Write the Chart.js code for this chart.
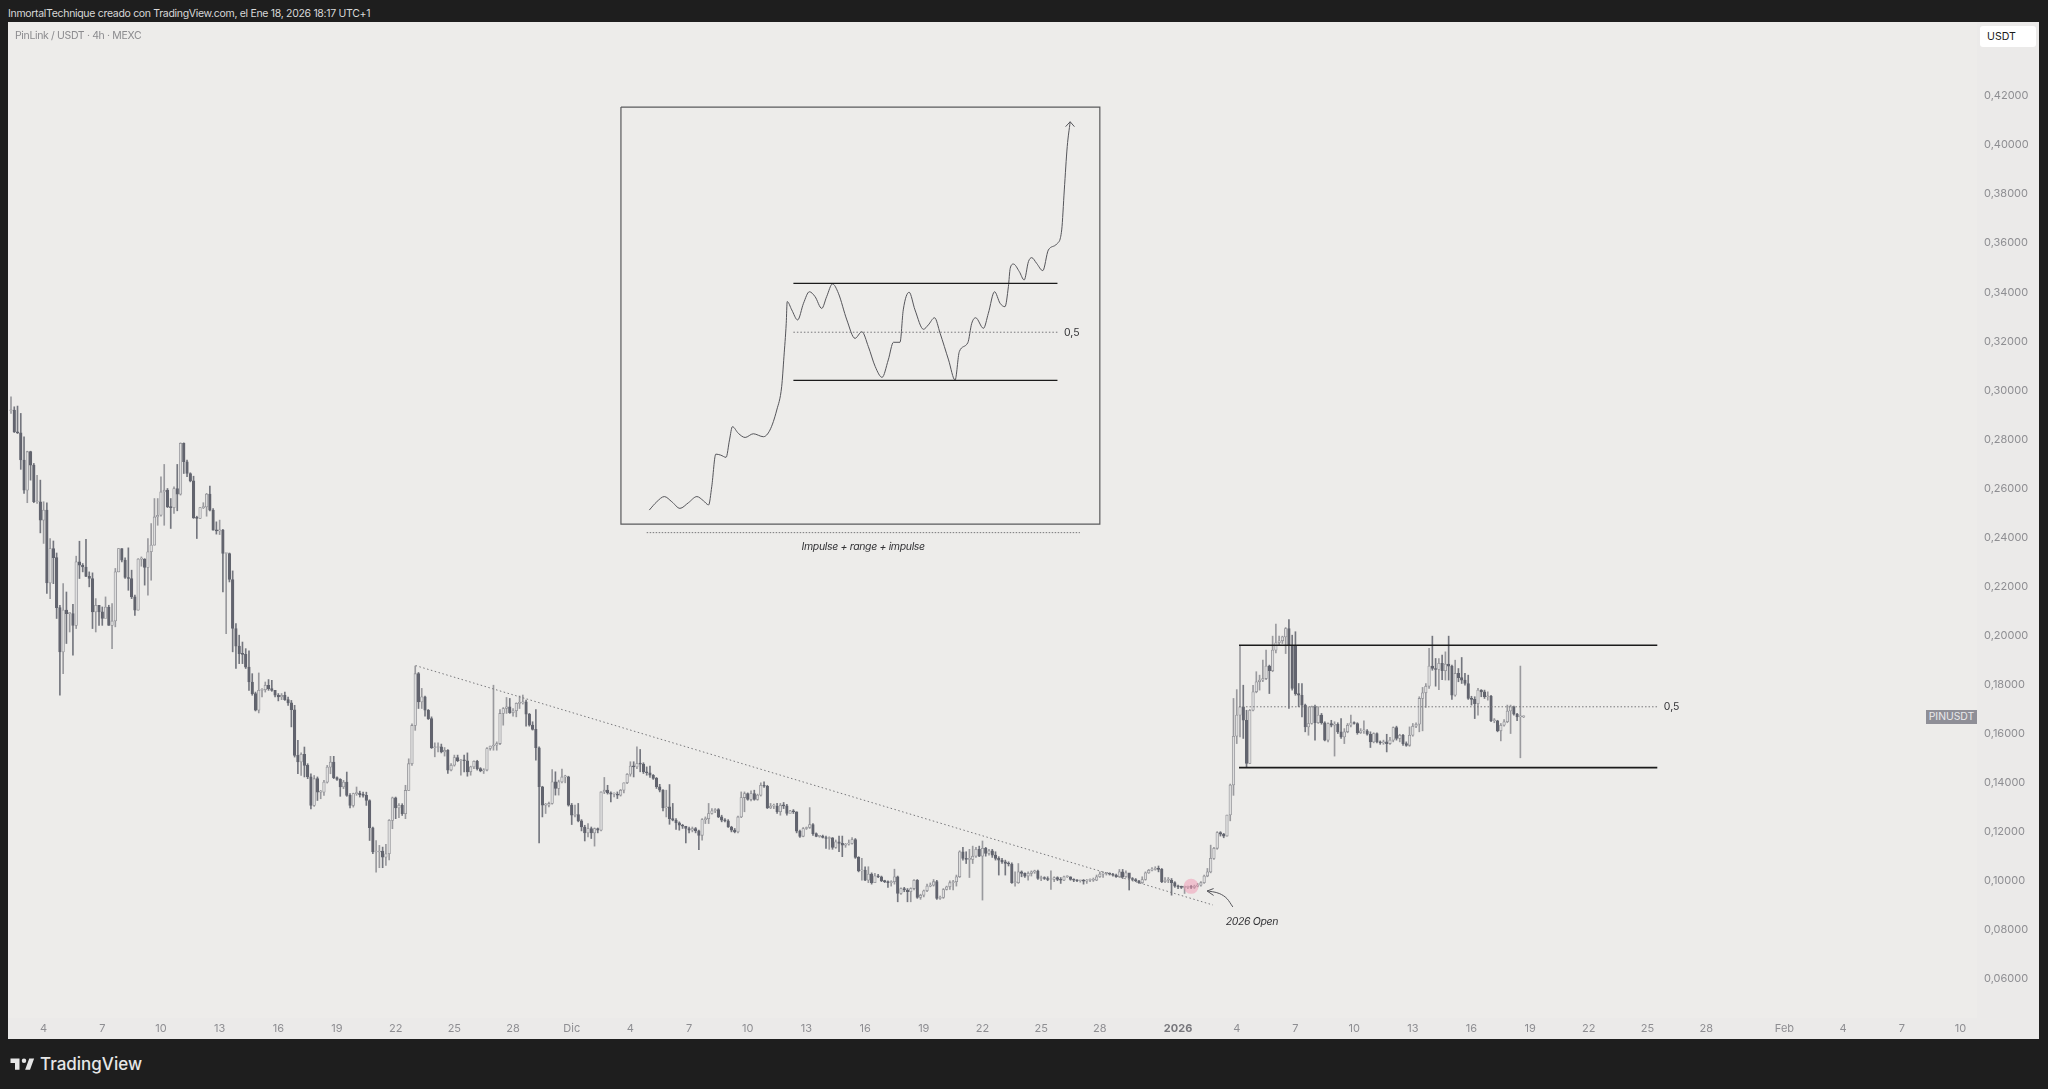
<!DOCTYPE html>
<html>
<head>
<meta charset="utf-8">
<title>PinLink / USDT</title>
<script src="https://cdn.jsdelivr.net/npm/chart.js@4/dist/chart.umd.min.js"></script>
<style>
  html, body { margin: 0; padding: 0; background: #1e1e1e; overflow: hidden; }
  body { width: 2048px; height: 1089px; position: relative; font-family: Inter, sans-serif; }
  #head { position: absolute; left: 8px; top: 7px; font-size: 10.5px; letter-spacing: -0.31px; line-height: 14px; color: #d8d8d8; white-space: nowrap; }
  #panel { position: absolute; left: 8px; top: 22px; width: 2031px; height: 1017px; }
  #title { position: absolute; left: 15px; top: 29px; font-size: 10.5px; letter-spacing: -0.35px; line-height: 14px; color: #8b8b8e; white-space: nowrap; }
  #unit { position: absolute; left: 1980px; top: 26px; width: 56px; height: 21px; line-height: 21px; background: #fff; border-radius: 3px; color: #1c1c1c; font-size: 10.6px; text-indent: 7px; }
  #tag { position: absolute; left: 1926px; top: 710px; width: 51px; height: 14px; line-height: 14px; background: #8f8f97; color: #e9e9ec; font-size: 10.4px; text-align: center; }
  #logo { position: absolute; left: 9px; top: 1054px; }
  #brand { position: absolute; left: 40px; top: 1052px; font-size: 17px; line-height: 24px; font-weight: 500; color: #e6e6e6; }
</style>
</head>
<body>
<div id="head">InmortalTechnique creado con TradingView.com, el Ene 18, 2026 18:17 UTC+1</div>
<canvas id="panel" width="2031" height="1017"></canvas>
<div id="title">PinLink / USDT · 4h · MEXC</div>
<div id="unit">USDT</div>
<div id="tag">PINUSDT</div>
<svg id="logo" width="27" height="21" viewBox="0 0 36 28"><path fill="#e6e6e6" d="M14 6H2v6h6v9h6V6zm14 15h-6.5L27 6h6.5L28 21z"/><circle fill="#e6e6e6" cx="20" cy="9" r="3"/></svg>
<div id="brand">TradingView</div>

<script>
// 4h candles, one value per bar. open = previous close
let firstOpen = .2917;
let closes = [
  .2920,.2831,.2827,.2716,.2593,.2750,.2695,.2546,.2546,.2471,.2512,.2215,.2355,.2318,.2114,.1934,.2104,.2090,.2090,.2042,
  .2301,.2287,.2280,.2242,.2233,.2097,.2124,.2097,.2070,.2117,.2042,.2060,.2260,.2355,.2308,.2237,.2233,.2158,.2104,.2312,
  .2312,.2278,.2342,.2369,.2484,.2491,.2586,.2593,.2525,.2522,.2600,.2577,.2784,.2709,.2661,.2631,.2480,.2478,.2522,.2525,
  .2577,.2512,.2430,.2427,.2430,.2335,.2335,.2229,.2029,.1957,.1927,.1924,.1872,.1811,.1764,.1696,.1777,.1780,.1798,.1784,
  .1777,.1757,.1750,.1757,.1739,.1726,.1698,.1512,.1485,.1516,.1471,.1424,.1308,.1417,.1362,.1362,.1403,.1464,.1485,.1421,
  .1414,.1383,.1403,.1349,.1308,.1356,.1358,.1352,.1349,.1328,.1217,.1118,.1118,.1122,.1097,.1111,.1247,.1339,.1298,.1308,
  .1274,.1369,.1478,.1634,.1845,.1730,.1751,.1696,.1662,.1543,.1544,.1547,.1526,.1533,.1452,.1472,.1503,.1490,.1492,.1490,
  .1445,.1465,.1488,.1458,.1449,.1452,.1540,.1550,.1554,.1560,.1683,.1703,.1710,.1686,.1694,.1724,.1726,.1730,.1680,.1635,
  .1618,.1543,.1384,.1309,.1309,.1316,.1404,.1377,.1404,.1424,.1424,.1309,.1268,.1271,.1245,.1220,.1196,.1214,.1196,.1214,
  .1207,.1363,.1370,.1359,.1354,.1354,.1350,.1370,.1400,.1435,.1468,.1465,.1479,.1476,.1445,.1441,.1431,.1418,.1384,.1370,
  .1298,.1302,.1254,.1248,.1237,.1227,.1223,.1214,.1207,.1214,.1204,.1186,.1250,.1254,.1275,.1286,.1291,.1261,.1248,.1245,
  .1220,.1207,.1200,.1261,.1340,.1356,.1332,.1356,.1332,.1350,.1390,.1386,.1298,.1305,.1305,.1282,.1309,.1306,.1275,.1286,
  .1282,.1203,.1182,.1214,.1218,.1230,.1193,.1182,.1183,.1177,.1173,.1176,.1137,.1160,.1153,.1146,.1150,.1153,.1169,.1096,
  .1041,.1044,.1003,.1028,.0993,.1021,.1017,.1001,.0997,.0993,.0997,.1017,.0949,.0969,.0963,.0956,.0969,.1003,.0933,.0942,
  .0960,.0979,.0983,.0997,.0929,.0933,.0965,.0976,.0993,.0997,.1017,.1119,.1092,.1088,.1088,.1101,.1129,.1101,.1133,.1112,
  .1123,.1105,.1092,.1085,.1078,.1071,.1069,.0993,.0993,.1037,.1031,.1020,.1031,.1037,.1040,.1010,.1014,.1010,.1006,.1006,
  .1014,.1006,.1003,.1017,.1017,.1006,.1003,.1001,.1001,.0999,.1003,.1003,.1003,.1017,.1028,.1031,.1031,.1028,.1024,.1017,
  .1037,.1017,.1033,.1010,.1006,.1001,.0993,.1006,.1033,.1044,.1047,.1051,.1047,.0997,.1003,.1003,.0993,.0979,.0976,.0974,
  .0974,.0976,.0974,.0979,.0983,.0993,.1020,.1037,.1092,.1133,.1197,.1191,.1183,.1269,.1391,.1590,.1676,.1710,.1655,.1479,
  .1696,.1771,.1812,.1819,.1825,.1876,.1857,.1941,.1971,.1979,.1995,.2029,.1961,.1785,.1764,.1757,.1717,.1628,.1642,.1710,
  .1645,.1676,.1645,.1574,.1642,.1635,.1639,.1608,.1587,.1608,.1635,.1645,.1642,.1604,.1612,.1612,.1598,.1567,.1601,.1567,
  .1563,.1567,.1560,.1574,.1625,.1581,.1594,.1560,.1553,.1594,.1631,.1639,.1744,.1767,.1794,.1876,.1866,.1862,.1887,.1857,
  .1884,.1876,.1757,.1846,.1829,.1819,.1805,.1744,.1740,.1723,.1778,.1771,.1751,.1753,.1653,.1653,.1612,.1635,.1649,.1693,
  .1710,.1680,.1669,.1669,.1669
];
let highs = [
  .2974,.2933,.2936,.2906,.2811,.2752,.2752,.2702,.2654,.2634,.2546,.2542,.2396,.2386,.2337,.2124,.2212,.2178,.2094,.2128,
  .2324,.2385,.2294,.2393,.2260,.2256,.2151,.2124,.2117,.2158,.2124,.2131,.2274,.2355,.2355,.2317,.2358,.2267,.2165,.2314,
  .2321,.2314,.2396,.2457,.2559,.2559,.2648,.2698,.2600,.2559,.2607,.2698,.2786,.2786,.2716,.2664,.2650,.2487,.2522,.2542,
  .2580,.2610,.2518,.2464,.2471,.2433,.2335,.2337,.2264,.2049,.2002,.1974,.1947,.1938,.1845,.1770,.1848,.1784,.1811,.1821,
  .1818,.1777,.1764,.1764,.1770,.1750,.1736,.1716,.1573,.1522,.1546,.1478,.1437,.1430,.1424,.1369,.1410,.1471,.1508,.1508,
  .1424,.1417,.1410,.1444,.1356,.1358,.1383,.1366,.1362,.1362,.1331,.1220,.1165,.1145,.1138,.1149,.1250,.1342,.1342,.1315,
  .1315,.1390,.1498,.1641,.1876,.1850,.1785,.1754,.1699,.1669,.1563,.1563,.1558,.1544,.1536,.1479,.1513,.1513,.1495,.1513,
  .1522,.1468,.1490,.1492,.1462,.1458,.1544,.1550,.1798,.1567,.1699,.1707,.1748,.1744,.1703,.1726,.1754,.1758,.1737,.1683,
  .1649,.1699,.1547,.1386,.1316,.1322,.1454,.1445,.1411,.1456,.1431,.1427,.1316,.1309,.1316,.1250,.1227,.1234,.1220,.1216,
  .1216,.1363,.1422,.1390,.1363,.1359,.1363,.1373,.1400,.1438,.1486,.1486,.1547,.1536,.1482,.1465,.1468,.1434,.1422,.1394,
  .1373,.1370,.1393,.1316,.1254,.1241,.1231,.1223,.1220,.1220,.1218,.1207,.1254,.1261,.1316,.1295,.1295,.1295,.1268,.1254,
  .1250,.1223,.1214,.1264,.1363,.1363,.1359,.1367,.1370,.1354,.1400,.1404,.1390,.1316,.1313,.1316,.1316,.1320,.1312,.1288,
  .1291,.1282,.1207,.1218,.1220,.1299,.1234,.1196,.1186,.1187,.1183,.1180,.1177,.1167,.1183,.1183,.1153,.1167,.1177,.1173,
  .1099,.1092,.1058,.1058,.1033,.1031,.1027,.1020,.1003,.1001,.1001,.1048,.1020,.0972,.0974,.0969,.0972,.1006,.1006,.0946,
  .0963,.0987,.0992,.1006,.1003,.0938,.0969,.0979,.1001,.1003,.1024,.1123,.1137,.1119,.1129,.1142,.1137,.1142,.1163,.1137,
  .1129,.1129,.1119,.1099,.1092,.1085,.1078,.1074,.1037,.1071,.1041,.1033,.1037,.1041,.1044,.1044,.1020,.1017,.1017,.1041,
  .1017,.1017,.1014,.1020,.1021,.1017,.1009,.1006,.1003,.1006,.1006,.1009,.1012,.1024,.1037,.1037,.1033,.1033,.1031,.1028,
  .1047,.1047,.1041,.1028,.1014,.1010,.1003,.1017,.1037,.1047,.1055,.1058,.1061,.1051,.1014,.1014,.1010,.0997,.0983,.0979,
  .0979,.0979,.0982,.0983,.0990,.0997,.1024,.1051,.1146,.1137,.1201,.1201,.1194,.1269,.1395,.1744,.1780,.1961,.1798,.1696,
  .1699,.1798,.1853,.1839,.1900,.1941,.1880,.1998,.2047,.1998,.1998,.2033,.2066,.2002,.2016,.1805,.1805,.1721,.1710,.1713,
  .1717,.1710,.1683,.1649,.1645,.1655,.1649,.1645,.1662,.1621,.1642,.1676,.1649,.1645,.1621,.1653,.1617,.1608,.1604,.1604,
  .1571,.1574,.1598,.1585,.1628,.1631,.1598,.1598,.1567,.1628,.1642,.1645,.1751,.1789,.1805,.1948,.1998,.1907,.1907,.1921,
  .1934,.1998,.1880,.1900,.1866,.1911,.1846,.1839,.1753,.1751,.1785,.1780,.1778,.1771,.1757,.1662,.1655,.1642,.1658,.1717,
  .1717,.1713,.1683,.1876,.1673
];
let lows = [
  .2906,.2828,.2824,.2678,.2580,.2542,.2634,.2542,.2539,.2419,.2376,.2172,.2151,.2212,.2070,.1757,.1845,.1968,.2015,.1920,
  .2029,.2233,.2260,.2240,.2199,.2029,.2015,.2042,.2042,.2090,.2042,.1947,.2036,.2260,.2301,.2233,.2185,.2151,.2083,.2104,
  .2283,.2206,.2165,.2226,.2369,.2450,.2487,.2450,.2522,.2437,.2498,.2509,.2573,.2661,.2648,.2627,.2478,.2396,.2478,.2518,
  .2487,.2509,.2430,.2414,.2412,.2178,.2008,.2219,.1934,.1866,.1886,.1886,.1866,.1777,.1757,.1693,.1685,.1750,.1770,.1777,
  .1773,.1750,.1734,.1739,.1736,.1716,.1628,.1505,.1437,.1430,.1424,.1417,.1294,.1304,.1328,.1335,.1349,.1399,.1437,.1417,
  .1410,.1345,.1376,.1345,.1298,.1301,.1349,.1342,.1342,.1308,.1165,.1111,.1036,.1054,.1054,.1063,.1086,.1213,.1254,.1258,
  .1267,.1254,.1369,.1471,.1614,.1703,.1703,.1672,.1658,.1540,.1506,.1526,.1522,.1509,.1438,.1449,.1468,.1486,.1431,.1445,
  .1427,.1431,.1458,.1452,.1445,.1438,.1449,.1533,.1533,.1533,.1556,.1635,.1683,.1683,.1672,.1669,.1703,.1721,.1631,.1631,
  .1615,.1492,.1155,.1261,.1275,.1302,.1313,.1350,.1350,.1400,.1400,.1305,.1230,.1261,.1241,.1204,.1163,.1180,.1173,.1142,
  .1196,.1204,.1356,.1354,.1322,.1343,.1336,.1346,.1359,.1397,.1427,.1424,.1458,.1445,.1438,.1431,.1422,.1414,.1377,.1363,
  .1286,.1261,.1231,.1245,.1210,.1207,.1214,.1155,.1196,.1200,.1196,.1128,.1166,.1234,.1234,.1272,.1278,.1258,.1241,.1241,
  .1218,.1200,.1196,.1196,.1258,.1282,.1329,.1326,.1329,.1329,.1346,.1381,.1295,.1295,.1295,.1275,.1268,.1295,.1268,.1282,
  .1275,.1196,.1177,.1180,.1210,.1214,.1186,.1180,.1178,.1175,.1133,.1129,.1129,.1133,.1119,.1099,.1137,.1146,.1150,.1092,
  .1037,.1003,.1001,.0993,.0987,.1017,.1013,.0997,.0993,.0974,.0979,.0987,.0915,.0945,.0956,.0915,.0915,.0963,.0929,.0925,
  .0935,.0956,.0976,.0979,.0925,.0925,.0929,.0963,.0965,.0963,.0979,.1014,.1085,.1071,.1014,.1071,.1096,.1099,.0922,.1101,
  .1105,.1096,.1085,.1024,.1071,.1024,.1061,.0990,.0979,.0990,.1017,.1014,.1003,.1020,.1031,.1006,.1001,.1006,.1001,.0965,
  .0997,.1001,.0990,.1001,.1014,.1003,.0997,.0997,.0995,.0987,.0990,.0997,.0998,.1001,.1014,.1014,.1024,.1024,.1020,.1014,
  .1014,.1010,.1014,.0963,.1001,.0997,.0990,.0990,.1003,.1031,.1041,.1044,.1037,.0993,.0993,.0993,.0942,.0974,.0969,.0969,
  .0949,.0969,.0969,.0969,.0976,.0979,.0990,.1017,.1033,.1088,.1129,.1183,.1176,.1183,.1245,.1349,.1560,.1587,.1581,.1465,
  .1479,.1693,.1767,.1778,.1812,.1821,.1764,.1853,.1930,.1961,.1968,.1927,.1703,.1778,.1757,.1710,.1669,.1608,.1594,.1639,
  .1574,.1642,.1639,.1571,.1567,.1628,.1509,.1601,.1581,.1560,.1604,.1628,.1639,.1598,.1601,.1601,.1594,.1544,.1563,.1563,
  .1557,.1557,.1526,.1557,.1567,.1574,.1567,.1553,.1549,.1549,.1590,.1625,.1608,.1612,.1707,.1785,.1859,.1794,.1780,.1821,
  .1819,.1819,.1740,.1753,.1812,.1805,.1798,.1740,.1717,.1662,.1676,.1751,.1744,.1737,.1649,.1645,.1608,.1571,.1631,.1645,
  .1601,.1676,.1653,.1502,.1666
];
// the one bar that opens away from the previous close, bar index -> open
let gapOpens = { 394: .1961 };

let priceTicks = [.06,.08,.10,.12,.14,.16,.18,.20,.22,.24,.26,.28,.30,.32,.34,.36,.38,.40,.42];
let dateBars = [10,28,46,64,82,100,118,136,154,172,190,208,226,244,262,280,298,316,334,358,376,394,412,430,448,466,484,502,520,544,562,580,598];
let dateLabels = ['4','7','10','13','16','19','22','25','28','Dic','4','7','10','13','16','19','22','25','28','2026','4','7','10','13','16','19','22','25','28','Feb','4','7','10'];

// drawings on the chart, in bar index / price
let trendX = [124.1, 368.7];
let trendY = [.1878, .0902];
let rangeX = [376.7, 505];
let rangeTop = .1961, rangeMid = .1710, rangeLow = .1462;
let circleX = 362, circleY = .0978;
let openArrowX = [374.8,373.0,370.8,368.6,366.9];
let openArrowY = [.0894,.0928,.0948,.0956,.0959];
let openHeadX = [368.9,366.9,368.9];
let openHeadY = [.0969,.0959,.0941];

let boxX = [187.1,334,334,187.1,187.1];
let boxY = [.4155,.4155,.2455,.2455,.4155];
let insetX = [240, 321];
let insetTop = .3436, insetMid = .3237, insetLow = .3041;
let underX = [195, 327.9];
let underY = .2420;
let sketchX = [195.8,198.1,200.4,202.7,205.2,207.8,210.4,212.4,214,214.95,216.2,217.7,219.35,220.4,221.3,223.1,225.2,227.7,230.8,232.8,
  234.9,236.4,237.1,237.8,238.1,239.5,241.3,243.1,244.9,246.65,248.7,250.2,252,253.8,256.4,258.9,261,263,265.1,267.2,
  269.1,270.7,272.7,273.7,275.5,277.3,279.9,281.4,283.3,285,287.6,289.6,290.9,293.5,294.7,295.9,298.3,299.8,301.7,303.4,
  304.9,305.95,306.5,307.5,309.3,310.8,312.1,313.1,314.6,316.5,318.2,320.8,322.3,323.1,324,324.9];
let sketchY = [.2512,.2546,.2567,.2546,.2519,.2542,.2567,.2550,.2533,.2607,.2740,.2736,.2727,.2798,.2852,.2825,.2808,.2823,.2811,.2838,
  .2920,.3015,.3137,.3273,.3362,.3328,.3287,.3355,.3402,.3382,.3334,.3382,.3434,.3396,.3287,.3212,.3239,.3178,.3097,.3053,
  .3124,.3196,.3196,.3328,.3400,.3328,.3249,.3267,.3296,.3233,.3124,.3042,.3158,.3194,.3273,.3296,.3253,.3314,.3402,.3355,
  .3341,.3423,.3497,.3515,.3484,.3450,.3525,.3541,.3518,.3488,.3572,.3597,.3654,.3817,.3994,.4095];
let sketchHeadX = [323.5,324.9,326.2];
let sketchHeadY = [.4075,.4095,.4075];

let noteTexts = ['0,5','0,5','2026 Open','Impulse + range + impulse'];
let noteX = [323, 507, 372.6, 242.5];
let noteY = [.3234, .1710, .0834, .2363];
let noteItalic = [false, false, true, true];

let opens = closes.map((c, i) => gapOpens[i] !== undefined ? gapOpens[i] : (i == 0 ? firstOpen : closes[i - 1]));
let isUp = closes.map((c, i) => c >= opens[i]);

let pairs = (xs, ys) => xs.map((x, i) => ({ x: x, y: ys[i] }));
let flat = (xs, y) => xs.map(x => ({ x: x, y: y }));
let lineSet = (data, color, width, dash) => ({
  type: 'line', data: data, borderColor: color, borderWidth: width, borderDash: dash || [],
  pointRadius: 0, fill: false, tension: 0, order: 1
});

const solid = '#1b1b1b', dots = '#77777a', thin = '#55555a';

// panel colours and the free text notes
let panelPlugin = {
  id: 'panel',
  beforeDraw(chart) {
    let c = chart.ctx, a = chart.chartArea;
    c.save();
    c.fillStyle = '#ebeae9';
    c.fillRect(0, 0, chart.width, chart.height);
    c.fillStyle = '#edecea';
    c.fillRect(a.left, a.top, a.right - a.left, a.bottom - a.top);
    c.restore();
  },
  afterDatasetsDraw(chart) {
    let c = chart.ctx;
    c.save();
    c.fillStyle = '#333336';
    c.textBaseline = 'middle';
    noteTexts.forEach((t, i) => {
      c.font = (noteItalic[i] ? 'italic ' : '') + '10.5px Inter, sans-serif';
      c.letterSpacing = noteItalic[i] ? '-0.35px' : '0px';
      c.fillText(t, chart.scales.x.getPixelForValue(noteX[i]), chart.scales.y.getPixelForValue(noteY[i]));
    });
    c.restore();
  }
};

new Chart(document.getElementById('panel').getContext('2d'), {
  data: {
    datasets: [
      {
        type: 'bar',
        data: closes.map((c, i) => ({ x: i, y: [lows[i], highs[i]] })),
        backgroundColor: isUp.map(u => u ? '#9a9a9e' : '#74767e'),
        barThickness: 1, grouped: false, order: 3
      },
      {
        type: 'bar',
        data: closes.map((c, i) => ({ x: i, y: [opens[i], c] })),
        backgroundColor: isUp.map(u => u ? '#dedede' : '#62646e'),
        borderColor: isUp.map(u => u ? '#919196' : '#62646e'),
        borderWidth: 0.8, borderSkipped: false, minBarLength: 1,
        barThickness: 2.6, grouped: false, order: 2
      },
      lineSet(pairs(trendX, trendY), dots, 1, [1.5, 2.5]),
      lineSet(flat(rangeX, rangeTop), solid, 1.6),
      lineSet(flat(rangeX, rangeMid), dots, 1, [1.5, 2]),
      lineSet(flat(rangeX, rangeLow), solid, 1.6),
      lineSet(pairs(boxX, boxY), '#5a5a5c', 1.2),
      lineSet(flat(insetX, insetTop), solid, 1.3),
      lineSet(flat(insetX, insetMid), dots, 1, [1.5, 2]),
      lineSet(flat(insetX, insetLow), solid, 1.3),
      lineSet(flat(underX, underY), dots, 1, [1.5, 1.5]),
      Object.assign(lineSet(pairs(sketchX, sketchY), thin, 1), { cubicInterpolationMode: 'monotone' }),
      lineSet(pairs(sketchHeadX, sketchHeadY), thin, 1),
      Object.assign(lineSet(pairs(openArrowX, openArrowY), thin, 1), { cubicInterpolationMode: 'monotone' }),
      lineSet(pairs(openHeadX, openHeadY), thin, 1),
      {
        type: 'scatter', data: [{ x: circleX, y: circleY }], pointRadius: 7.5,
        backgroundColor: 'rgba(242,150,178,0.5)', borderWidth: 0, order: 0
      }
    ]
  },
  options: {
    responsive: false,
    animation: false,
    layout: { padding: 0, autoPadding: false },
    plugins: { legend: { display: false }, tooltip: { enabled: false } },
    scales: {
      x: {
        type: 'linear', offset: false, min: -0.92, max: 603.07,
        grid: { display: false, drawTicks: false }, border: { display: false },
        afterBuildTicks(scale) { scale.ticks = dateBars.map(v => ({ value: v })); },
        afterFit(scale) { scale.height = 21; scale.paddingLeft = 0; scale.paddingRight = 0; },
        ticks: {
          autoSkip: false, maxRotation: 0, padding: 4,
          color: c => c.tick && c.tick.label == '2026' ? '#77777c' : '#8e8e92',
          font: c => c.tick && c.tick.label == '2026'
            ? { family: 'Inter, sans-serif', size: 11, weight: 'bold' }
            : { family: 'Inter, sans-serif', size: 11 },
          callback: (v, i) => dateLabels[i]
        }
      },
      y: {
        type: 'linear', position: 'right', min: .04413, max: .45017,
        grid: { display: false, drawTicks: false }, border: { display: false },
        afterBuildTicks(scale) { scale.ticks = priceTicks.map(v => ({ value: v })); },
        afterFit(scale) { scale.width = 62; scale.paddingTop = 0; scale.paddingBottom = 0; },
        ticks: {
          padding: 7, color: '#8e8e92',
          font: { family: 'Inter, sans-serif', size: 11 },
          callback: v => v.toFixed(5).replace('.', ',')
        }
      }
    }
  },
  plugins: [panelPlugin]
});
</script>
</body>
</html>
